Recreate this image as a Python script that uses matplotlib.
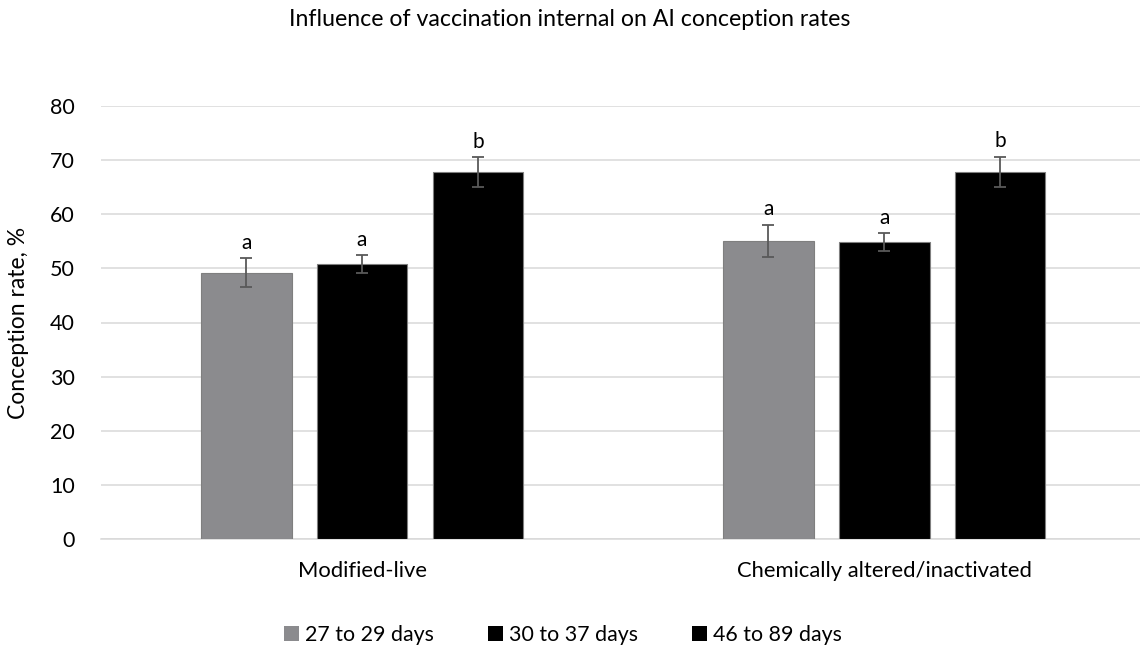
import matplotlib
matplotlib.use("Agg")
import matplotlib.pyplot as plt
from matplotlib.patches import Patch
import numpy as np

plt.rcParams['font.family'] = ['Lato', 'DejaVu Sans']

title = "Influence of vaccination internal on AI conception rates"
categories = ["Modified-live", "Chemically altered/inactivated"]
series_names = ["27 to 29 days", "30 to 37 days", "46 to 89 days"]
values = [
    [49.2, 55.1],
    [50.8, 54.9],
    [67.8, 67.8],
]
errors = [
    [2.7, 3.0],
    [1.6, 1.6],
    [2.7, 2.8],
]
letters = [
    ["a", "a"],
    ["a", "a"],
    ["b", "b"],
]
colors = ["#8b8b8e", "#000000", "#000000"]
yticks = [0, 10, 20, 30, 40, 50, 60, 70, 80]

fig = plt.figure(figsize=(11.4, 6.49), dpi=100)
ax = fig.add_axes([101/1140, 110/649, 1 - 101/1140, 433/649])

x = np.arange(len(categories))
width = 0.174
step = 0.222
for i, (name, vals, errs, col) in enumerate(zip(series_names, values, errors, colors)):
    pos = x + (i - 1) * step
    ax.bar(pos, vals, width, color=col, edgecolor="#7f7f7f", linewidth=0.8, zorder=3)
    ax.errorbar(pos, vals, yerr=errs, fmt="none", ecolor="#595959", elinewidth=1.3,
                capsize=4.3, capthick=1.3, zorder=4)
    for p, v, e, lab in zip(pos, vals, errs, letters[i]):
        ax.annotate(lab, (p, v + e), xytext=(0, 4), textcoords="offset points",
                    ha="center", va="bottom", fontsize=15, color="#000000", zorder=5)

ax.set_xlim(-0.5, 1.49)
ax.set_ylim(0, 80)
ax.set_yticks(yticks)
ax.set_xticks(x)
ax.set_xticklabels(categories, fontsize=15.8)
ax.grid(axis="y", color="#d9d9d9", linewidth=1.1, zorder=0)
ax.set_axisbelow(True)
for s in ["top", "right", "left"]:
    ax.spines[s].set_visible(False)
ax.spines["bottom"].set_color("#d9d9d9")
ax.spines["bottom"].set_linewidth(1.1)
ax.tick_params(axis="both", length=0, colors="#000000")
ax.tick_params(axis="y", labelsize=15.5, pad=19)
ax.tick_params(axis="x", pad=16)
ax.set_ylabel("Conception rate, %", fontsize=16.5)
ax.yaxis.set_label_coords(-(101 - 29) / (1140 - 101), 0.5)

fig.text(0.5, 1 - 20/649, title, ha="center", va="center", fontsize=16.7)

handles = [Patch(facecolor=c, edgecolor="none") for c in colors]
fig.legend(handles, series_names, loc="center", bbox_to_anchor=(563/1140, 1 - 635/649),
           ncol=3, frameon=False, fontsize=15.4, handlelength=0.7, handleheight=0.7,
           handletextpad=0.3, columnspacing=2.5, borderpad=0.1)

fig.savefig("out.png", dpi=100)
